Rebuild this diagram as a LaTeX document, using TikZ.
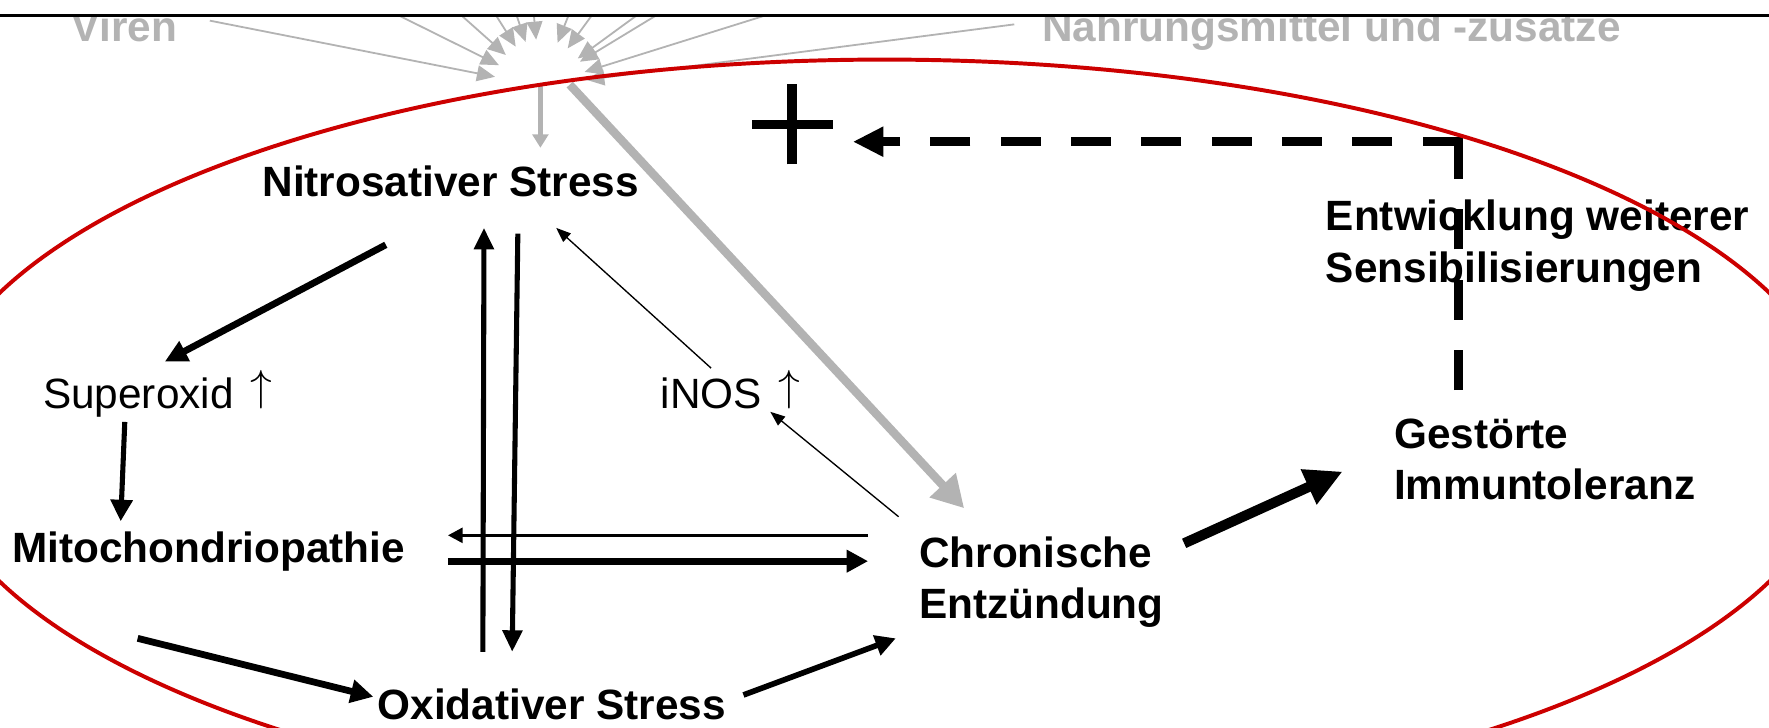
\documentclass[tikz,border=0pt]{standalone}
\usepackage{fontspec}
\setmainfont{Liberation Sans}
\usetikzlibrary{arrows.meta,calc}
\definecolor{ellred}{RGB}{204,0,0}
\definecolor{lgray}{RGB}{179,179,179}
\newcommand{\uparr}{\hspace{0.12em}\raisebox{0.19em}{$\uparrow$}}
\begin{document}
\begin{tikzpicture}[x=0.01cm,y=-0.01cm,
  lbl/.style={inner sep=0pt, anchor=base west, align=left,
    font=\fontsize{10.67pt}{12.9pt}\selectfont\bfseries},
  lblr/.style={inner sep=0pt, anchor=base west,
    font=\fontsize{10.67pt}{12.9pt}\selectfont},
  graytxt/.style={inner sep=0pt, anchor=base west, text=lgray,
    font=\fontsize{10.67pt}{12.9pt}\selectfont\bfseries},
  sunray/.style={draw=lgray, line width=0.016cm,
    -{Triangle[length=0.16cm,width=0.14cm]}},
  arr/.style args={#1/#2/#3}{draw=black, line width=#1cm,
    -{Triangle[length=#2cm,width=#3cm]}},
  garr/.style args={#1/#2/#3}{draw=lgray, line width=#1cm,
    -{Triangle[length=#2cm,width=#3cm]}},
  dashblk/.style={draw=black, line width=0.08cm,
    dash pattern=on 0.355cm off 0.268cm}
]
\path[use as bounding box] (0,0) rectangle (1568,645);
\clip (0,0) rectangle (1568,645);

% gray source labels
\node[graytxt] (viren) at (63,36.5) {Viren};
\node[graytxt] (nahr) at (923,37) {Nahrungsmittel und -zusatze};

% converging rays
\coordinate (sun) at (479,76);
\foreach \px/\py [count=\i] in {186/18.3, 348/11, 406/11, 438/11, 457/11,
    473/11, 505/11, 526.5/11, 568/11, 586/11, 687/11, 899/21.6} {
  \coordinate (ray\i) at (\px,\py);
  \draw[sunray] (ray\i) -- ($(sun)!0.41cm!(ray\i)$);
}

% text nodes
\node[lbl] (nitro) at (232,174.3) {Nitrosativer Stress};
\node[lblr] (sup) at (37.5,362) {Superoxid \uparr};
\node[lbl] (mito) at (10,499) {Mitochondriopathie};
\node[lbl] (oxid) at (334,638) {Oxidativer Stress};
\node[lblr] (inos) at (585,362) {iNOS \uparr};
\node[lbl] (chron) at (814,548) {Chronische\\Entzündung};
\node[lbl] (gest) at (1235,443) {Gestörte\\Immuntoleranz};
\node[lbl] (entw) at (1174.5,250) {Entwicklung weiterer\\Sensibilisierungen};

% plus sign
\coordinate (plus) at (702,110.2);
\draw[line width=0.084cm] ([yshift=-0.355cm]plus) -- ([yshift=0.361cm]plus);
\draw[line width=0.074cm] ([xshift=-0.35cm]plus) -- ([xshift=0.36cm]plus);

% connector end points
\coordinate (nsA) at (342,217);     \coordinate (supT) at (146,320.6);
\coordinate (supB) at (110.6,374);  \coordinate (mitoT) at (107,462);
\coordinate (oxU) at (428,577.7);   \coordinate (nsU) at (429,202);
\coordinate (nsD) at (459,207);     \coordinate (oxD) at (454,577.7);
\coordinate (chL1) at (769.5,474.5);\coordinate (miR1) at (397,474.5);
\coordinate (miR2) at (397,497.4);  \coordinate (chL2) at (769.5,497.4);
\coordinate (miB) at (122,565.8);   \coordinate (oxL) at (330.9,617.6);
\coordinate (oxR) at (659,616);     \coordinate (chB) at (794,565.8);
\coordinate (inT) at (630.3,326.3); \coordinate (nsR) at (493,202);
\coordinate (chT) at (796.5,458);   \coordinate (inB) at (682.8,365);
\coordinate (chR) at (1049.6,481.6);\coordinate (geL) at (1190,418);
\coordinate (sunD) at (479,131);
\coordinate (sunR) at (505,75);     \coordinate (chG) at (854.6,450.5);
\coordinate (geT) at (1292.5,345.7);\coordinate (corner) at (1292.5,121.6);
\coordinate (cornerH) at (1296.5,125.6); \coordinate (plusR) at (756,125.6);

% gray arrows from the sources
\draw[garr=0.05/0.12/0.14] (sun) -- (sunD);
\draw[garr=0.075/0.28/0.30] (sunR) -- (chG);

% black arrows
\draw[arr=0.06/0.20/0.19] (nsA) -- (supT);
\draw[arr=0.045/0.19/0.19] (supB) -- (mitoT);
\draw[arr=0.045/0.19/0.17] (oxU) -- (nsU);
\draw[arr=0.045/0.19/0.17] (nsD) -- (oxD);
\draw[arr=0.03/0.13/0.13] (chL1) -- (miR1);
\draw[arr=0.06/0.19/0.19] (miR2) -- (chL2);
\draw[arr=0.06/0.20/0.20] (miB) -- (oxL);
\draw[arr=0.05/0.18/0.18] (oxR) -- (chB);
\draw[arr=0.012/0.13/0.10] (inT) -- (nsR);
\draw[arr=0.012/0.13/0.10] (chT) -- (inB);
\draw[arr=0.09/0.33/0.32] (chR) -- (geL);

% dashed feedback arrow
\draw[dashblk] (geT) -- (corner);
\draw[dashblk, -{Triangle[length=0.27cm,width=0.25cm]}] (cornerH) -- (plusR);

% red ellipse
\draw[ellred, line width=0.035cm] (784,387.5) ellipse [x radius=8.48cm, y radius=3.345cm];

% top frame line
\fill[white] (0,0) rectangle (1568,12.8);
\draw[line width=0.024cm] (0,14) -- (1568,14);
\end{tikzpicture}
\end{document}
